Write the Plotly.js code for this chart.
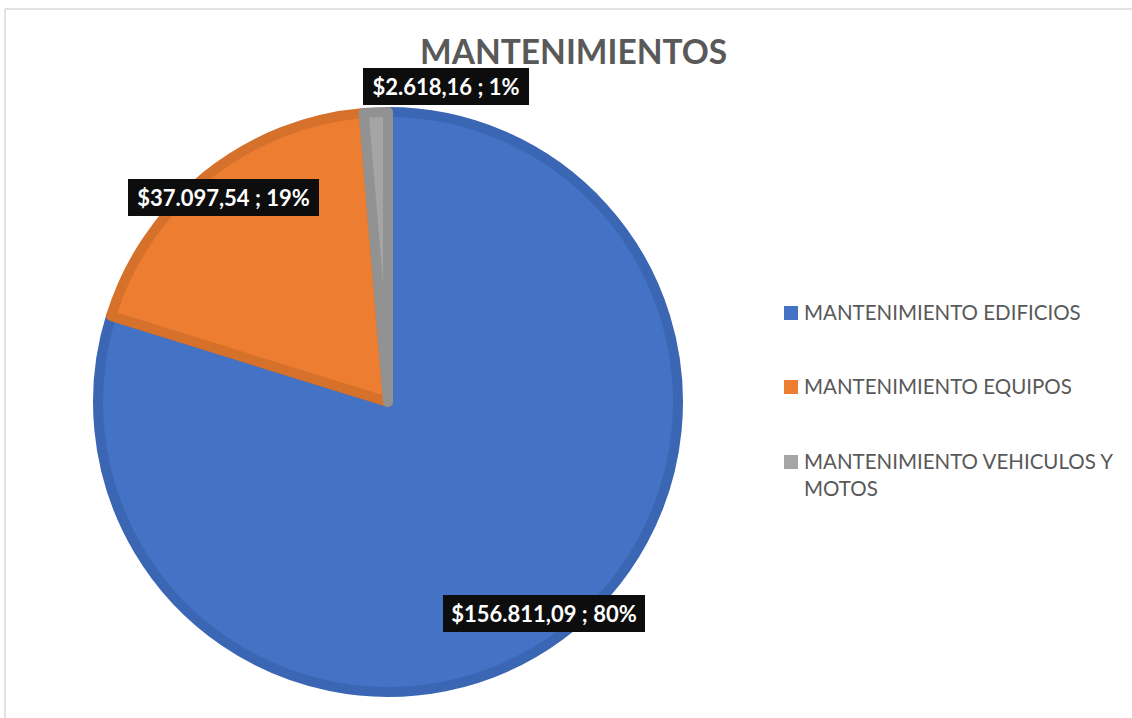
<!DOCTYPE html>
<html><head><meta charset="utf-8">
<script src="https://cdn.plot.ly/plotly-3.0.1.min.js"></script>
<style>html,body{margin:0;padding:0;background:#fff}#chart{width:1132px;height:718px}</style>
</head><body><div id="chart"></div>
<script>
// ---- data ----
const categories = ['MANTENIMIENTO EDIFICIOS', 'MANTENIMIENTO EQUIPOS', 'MANTENIMIENTO VEHICULOS Y MOTOS'];
const values = [156811.09, 37097.54, 2618.16];
const chartTitle = 'MANTENIMIENTOS';

// ---- style ----
const fillColors = ['#4472C4', '#ED7D31', '#A5A5A5'];
const lineColors = ['#3B66B3', '#D6712C', '#929292'];
const W = 1132, H = 718;
const px = x => x / W, py = y => 1 - y / H;
const cx = 388, cy = 402, LW = 10, R = 295 - LW / 2;   // pie geometry (px)
const labelRadial = [0.89, 0.89, 1.07];
const labelShiftX = [0, 0, 71];
const labelBoxW = [202, 191, 166];
const legendRowY = [313, 387, 462];

function money(v) {
  const p = v.toFixed(2).split('.');
  return '$' + p[0].replace(/\B(?=(\d{3})+(?!\d))/g, '.') + ',' + p[1];
}
function wrap(s, n) {
  if (s.length <= n) return s;
  const i = s.lastIndexOf(' ', n);
  return s.slice(0, i) + '<br>' + s.slice(i + 1);
}
const total = values.reduce((a, b) => a + b, 0);

const annotations = [];
const shapes = [];

// title
annotations.push({
  text: '<b>' + chartTitle + '</b>', xref: 'paper', yref: 'paper',
  x: px(573), y: py(51), xanchor: 'center', yanchor: 'middle', showarrow: false,
  font: {family: 'Lato, sans-serif', size: 33.5, color: '#595959'}
});

// data labels placed from slice geometry
let acc = 0;
values.forEach((v, i) => {
  const mid = (acc + v / 2) / total * 2 * Math.PI;
  acc += v;
  const r = 295 * labelRadial[i];
  const x = cx + Math.sin(mid) * r + labelShiftX[i];
  const y = cy - Math.cos(mid) * r;
  annotations.push({
    text: '<b>' + money(v) + ' ; ' + Math.round(v / total * 100) + '%</b>',
    xref: 'paper', yref: 'paper', x: px(x), y: py(y), xanchor: 'center', yanchor: 'middle',
    showarrow: false, bgcolor: '#0D0D0D', borderpad: 0, borderwidth: 0,
    width: labelBoxW[i], height: 37,
    font: {family: 'Lato, sans-serif', size: 22, color: '#FFFFFF'}
  });
});

// legend
categories.forEach((c, i) => {
  const yc = legendRowY[i];
  shapes.push({type: 'rect', xref: 'paper', yref: 'paper', x0: px(784), x1: px(798),
    y0: py(yc - 7), y1: py(yc + 7), fillcolor: fillColors[i], line: {width: 0}});
  annotations.push({
    text: wrap(c, 25), xref: 'paper', yref: 'paper', x: px(802), y: py(yc - 15),
    xanchor: 'left', yanchor: 'top', align: 'left', showarrow: false,
    font: {family: 'Lato, sans-serif', size: 20.5, color: '#595959'}
  });
});

// chart frame
shapes.push({type: 'line', xref: 'paper', yref: 'paper', x0: px(5), x1: 1, y0: py(9), y1: py(9), line: {color: '#D9D9D9', width: 1.5}});
shapes.push({type: 'line', xref: 'paper', yref: 'paper', x0: px(5), x1: px(5), y0: py(9), y1: 0, line: {color: '#D9D9D9', width: 1.5}});

const trace = {
  type: 'pie', labels: categories, values: values, sort: false, direction: 'clockwise', rotation: 0,
  marker: {colors: fillColors, line: {color: lineColors, width: LW}},
  textinfo: 'none', hoverinfo: 'label+value+percent', showlegend: false,
  domain: {x: [px(cx - R), px(cx + R)], y: [py(cy + R), py(cy - R)]}
};

Plotly.newPlot('chart', [trace], {
  width: W, height: H, margin: {l: 0, r: 0, t: 0, b: 0},
  paper_bgcolor: '#FFFFFF', showlegend: false,
  annotations: annotations, shapes: shapes
}, {displayModeBar: false, staticPlot: true});
</script>
</body></html>
